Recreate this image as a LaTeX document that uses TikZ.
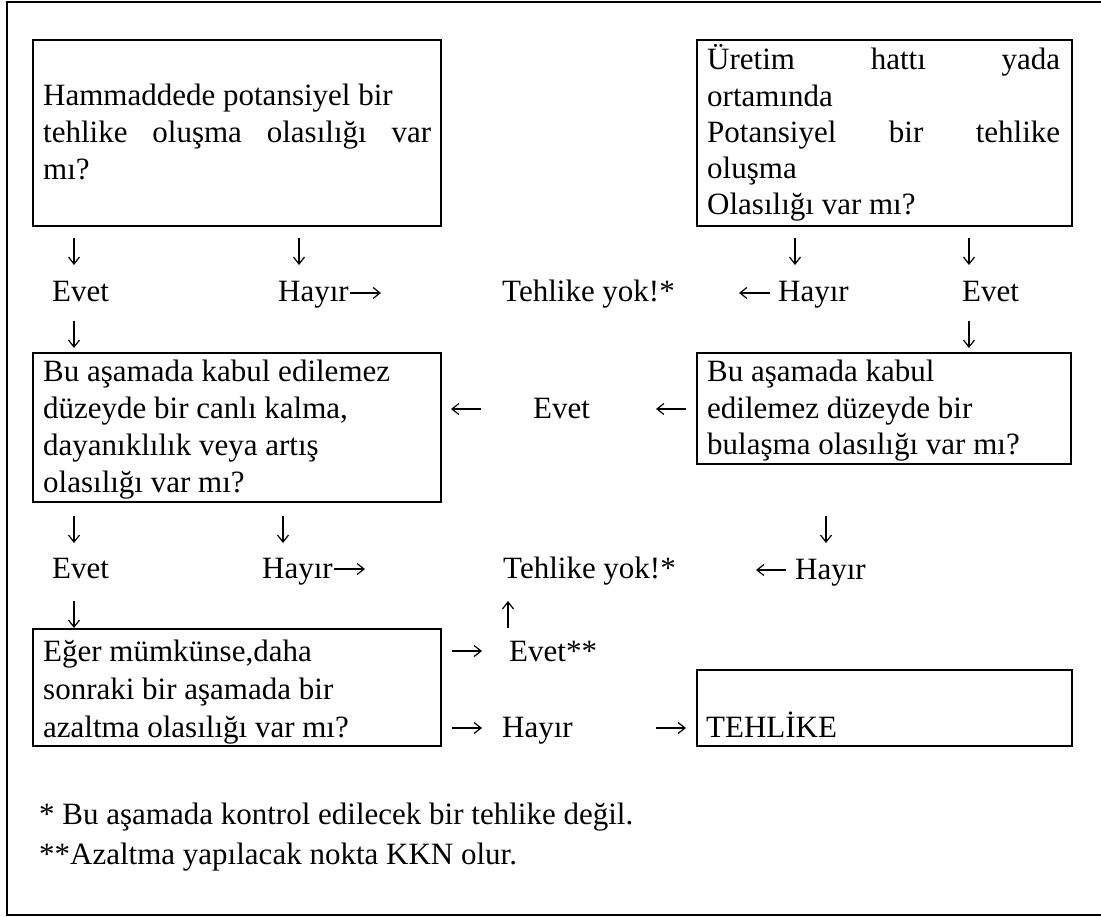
\documentclass[tikz,border=0pt]{standalone}
\usepackage{fontspec}
\setmainfont{Liberation Serif}
\usetikzlibrary{arrows.meta}
\newcommand{\justline}[2]{\leavevmode\hbox to #1{#2}}
\newcommand{\boxlines}[3]{\parbox[t]{#1}{\fontsize{31pt}{#2}\selectfont #3}}
\begin{document}
\begin{tikzpicture}[x=1pt,y=-1pt,
  box/.style={draw, line width=2pt, inner sep=0pt},
  txt/.style={anchor=base west, inner sep=0pt, font=\fontsize{31pt}{37pt}\selectfont},
  ar/.style={line width=1.2pt, -{Straight Barb[length=7pt,width=11pt]}}]
\useasboundingbox (0,0) rectangle (1101,917);

% outer frame, open on the right
\draw[line width=2.2pt] (1101,2) -- (7,2) -- (7,915) -- (1101,915);

% question boxes
\node[box, minimum width=408pt, minimum height=186pt] (b1) at (237,133) {};
\node[box, minimum width=375pt, minimum height=186pt] (b2) at (884.5,133) {};
\node[box, minimum width=408pt, minimum height=149pt] (b3) at (237,427.5) {};
\node[box, minimum width=374pt, minimum height=111pt] (b4) at (884,408.5) {};
\node[box, minimum width=408pt, minimum height=117pt] (b5) at (237,687.5) {};
\node[box, minimum width=375pt, minimum height=76pt] (b6) at (884.5,708) {};

% box texts
\node[txt] (t1) at (43,106) {\boxlines{388pt}{37pt}{Hammaddede potansiyel bir\\
  \justline{388pt}{tehlike\hfill oluşma\hfill olasılığı\hfill var}\\ mı?}};
\node[txt] (t2) at (707,70) {\boxlines{353pt}{36.25pt}{\justline{353pt}{Üretim\hfill hattı\hfill yada}\\
  ortamında\\ \justline{353pt}{Potansiyel\hfill bir\hfill tehlike}\\ oluşma\\ Olasılığı var mı?}};
\node[txt] (t3) at (43,382) {\boxlines{388pt}{36.7pt}{Bu aşamada kabul edilemez\\
  düzeyde bir canlı kalma,\\ dayanıklılık veya artış\\ olasılığı var mı?}};
\node[txt] (t4) at (707,382) {\boxlines{353pt}{36.5pt}{Bu aşamada kabul\\
  edilemez düzeyde bir\\ bulaşma olasılığı var mı?}};
\node[txt] (t5) at (43,661) {\boxlines{388pt}{38pt}{Eğer mümkünse,daha\\
  sonraki bir aşamada bir\\ azaltma olasılığı var mı?}};
\node[txt] (t6) at (706,737) {TEHLİKE};

% answer labels
\node[txt] (e1) at (52,302) {Evet};
\node[txt] (h1) at (278,302) {Hayır};
\node[txt] (y1) at (502,302) {Tehlike yok!*};
\node[txt] (h2) at (778,302) {Hayır};
\node[txt] (e2) at (962,302) {Evet};
\node[txt] (e3) at (533,418) {Evet};
\node[txt] (e4) at (52,578) {Evet};
\node[txt] (h3) at (262,578) {Hayır};
\node[txt] (y2) at (503,578) {Tehlike yok!*};
\node[txt] (h4) at (795,579) {Hayır};
\node[txt] (e5) at (509,661) {Evet**};
\node[txt] (h5) at (502,737) {Hayır};

% arrows under the top boxes
\draw[ar] (74,238) coordinate (a1s) -- (74,265) coordinate (a1e);
\draw[ar] (299,238) coordinate (a2s) -- (299,265) coordinate (a2e);
\draw[ar] (795,238) coordinate (a3s) -- (795,265) coordinate (a3e);
\draw[ar] (969,238) coordinate (a4s) -- (969,265) coordinate (a4e);
\draw[ar] (h1.base east) ++(1,-9) coordinate (a5s) -- ++(31,0) coordinate (a5e);
\draw[ar] (770,293) coordinate (a6s) -- (739,293) coordinate (a6e);
\draw[ar] (74,321) coordinate (a7s) -- (74,348) coordinate (a7e);
\draw[ar] (969,321) coordinate (a8s) -- (969,348) coordinate (a8e);

% arrows between the middle boxes
\draw[ar] (481,409) coordinate (a9s) -- (451,409) coordinate (a9e);
\draw[ar] (686,409) coordinate (a10s) -- (656,409) coordinate (a10e);

% arrows under the middle boxes
\draw[ar] (74,516) coordinate (a11s) -- (74,543) coordinate (a11e);
\draw[ar] (283,516) coordinate (a12s) -- (283,543) coordinate (a12e);
\draw[ar] (826,516) coordinate (a13s) -- (826,543) coordinate (a13e);
\draw[ar] (h3.base east) ++(1,-9) coordinate (a14s) -- ++(31,0) coordinate (a14e);
\draw[ar] (786,570) coordinate (a15s) -- (756,570) coordinate (a15e);
\draw[ar] (74,601) coordinate (a16s) -- (74,628) coordinate (a16e);
\draw[ar] (508,628) coordinate (a17s) -- (508,601) coordinate (a17e);

% arrows of the reduction step
\draw[ar] (452,651) coordinate (a18s) -- (482,651) coordinate (a18e);
\draw[ar] (452,728) coordinate (a19s) -- (482,728) coordinate (a19e);
\draw[ar] (656,728) coordinate (a20s) -- (686,728) coordinate (a20e);

% footnotes
\node[txt] (n1) at (39,824) {* Bu aşamada kontrol edilecek bir tehlike değil.};
\node[txt] (n2) at (39,864) {**Azaltma yapılacak nokta KKN olur.};
\end{tikzpicture}
\end{document}
